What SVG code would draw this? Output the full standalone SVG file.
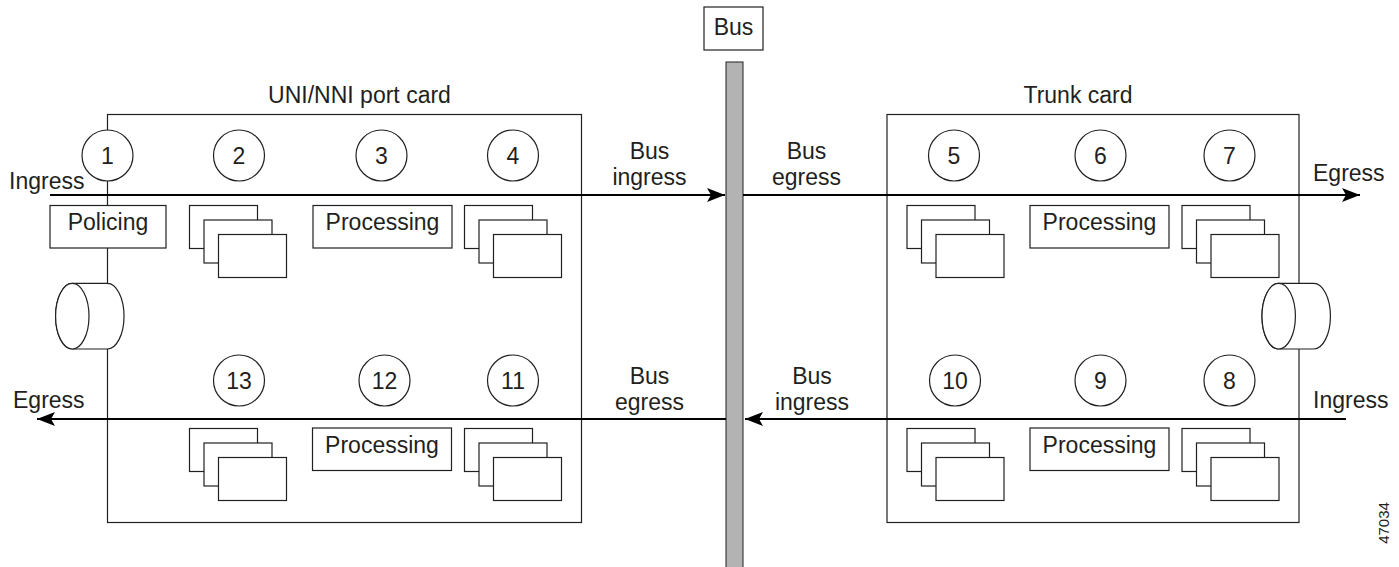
<svg xmlns="http://www.w3.org/2000/svg" width="1399" height="567" viewBox="0 0 1399 567">
<defs>
<style>
text{font-family:"Liberation Sans",Arial,Helvetica,sans-serif;font-size:23px;fill:#231f20}
.mid{text-anchor:middle}
.card{fill:none;stroke:#231f20;stroke-width:1.2}
.box{fill:#fff;stroke:#231f20;stroke-width:1.2}
.flow{stroke:#000;stroke-width:2.2;fill:none}
</style>
<marker id="ah" viewBox="0 0 18 14" refX="18" refY="7" markerWidth="18" markerHeight="14" markerUnits="userSpaceOnUse" orient="auto">
<path d="M0,0 L18,7 L0,14 L4,7 Z" fill="#000"/>
</marker>
<g id="stack">
<rect class="box" x="0" y="0" width="68" height="43"/>
<rect class="box" x="14.5" y="14.5" width="68" height="43"/>
<rect class="box" x="29" y="29" width="68" height="43"/>
</g>
</defs>
<rect width="1399" height="567" fill="#fff"/>

<g id="bus">
<rect x="726" y="62" width="17" height="510" fill="#b3b3b3" stroke="#231f20" stroke-width="1"/>
<rect class="box" x="704" y="7" width="59" height="43"/>
<text class="mid" x="733.5" y="35">Bus</text>
</g>

<g id="uni-card">
<rect class="card" x="107.5" y="114.5" width="474" height="408"/>
<text class="mid" x="359.5" y="103">UNI/NNI port card</text>
</g>

<g id="trunk-card">
<rect class="card" x="887" y="114.5" width="412" height="408"/>
<text class="mid" x="1078" y="103">Trunk card</text>
</g>

<g id="connectors">
<line class="flow" x1="50" y1="195" x2="725" y2="195" marker-end="url(#ah)"/>
<line class="flow" x1="743" y1="195" x2="1360" y2="195" marker-end="url(#ah)"/>
<line class="flow" x1="1346" y1="419" x2="745" y2="419" marker-end="url(#ah)"/>
<line class="flow" x1="726" y1="419" x2="37" y2="419" marker-end="url(#ah)"/>
</g>

<g id="labels">
<text x="9" y="189">Ingress</text>
<text x="13" y="408">Egress</text>
<text x="1313" y="181">Egress</text>
<text x="1313" y="408">Ingress</text>
<text class="mid" x="649.5" y="159">Bus</text>
<text class="mid" x="649.5" y="185">ingress</text>
<text class="mid" x="806.5" y="159">Bus</text>
<text class="mid" x="806.5" y="185">egress</text>
<text class="mid" x="649.5" y="384">Bus</text>
<text class="mid" x="649.5" y="410">egress</text>
<text class="mid" x="812" y="384">Bus</text>
<text class="mid" x="812" y="410">ingress</text>
<text x="1389" y="523" transform="rotate(-90 1389 523)" class="mid" style="font-size:15px">47034</text>
</g>

<g id="policing">
<rect class="box" x="50" y="205.5" width="116" height="42.5"/>
<text class="mid" x="108" y="230">Policing</text>
</g>

<g id="cyl-left">
<path class="box" d="M72.3,283.3 L107.3,283.3 A16.7,32.8 0 0 1 107.3,349 L72.3,349 A16.7,32.8 0 0 1 72.3,283.3 Z"/>
<ellipse class="box" cx="72.3" cy="316.2" rx="16.7" ry="32.8"/>
</g>
<g id="cyl-right">
<path class="box" d="M1278.7,283.3 L1313.7,283.3 A16.7,32.8 0 0 1 1313.7,349 L1278.7,349 A16.7,32.8 0 0 1 1278.7,283.3 Z"/>
<ellipse class="box" cx="1278.7" cy="316.2" rx="16.7" ry="32.8"/>
</g>

<g id="n1"><circle class="box" cx="107.5" cy="155.5" r="25.5"/><text class="mid" x="107.5" y="163.5">1</text></g>
<g id="n2"><circle class="box" cx="239" cy="155.5" r="25.5"/><text class="mid" x="239" y="163.5">2</text></g>
<g id="n3"><circle class="box" cx="381.5" cy="155.5" r="25.5"/><text class="mid" x="381.5" y="163.5">3</text></g>
<g id="n4"><circle class="box" cx="513" cy="155.5" r="25.5"/><text class="mid" x="513" y="163.5">4</text></g>
<g id="n5"><circle class="box" cx="954" cy="155.5" r="25.5"/><text class="mid" x="954" y="163.5">5</text></g>
<g id="n6"><circle class="box" cx="1100.5" cy="155.5" r="25.5"/><text class="mid" x="1100.5" y="163.5">6</text></g>
<g id="n7"><circle class="box" cx="1229.5" cy="155.5" r="25.5"/><text class="mid" x="1229.5" y="163.5">7</text></g>
<g id="n8"><circle class="box" cx="1229.5" cy="380.5" r="25.5"/><text class="mid" x="1229.5" y="388.5">8</text></g>
<g id="n9"><circle class="box" cx="1100.5" cy="380.5" r="25.5"/><text class="mid" x="1100.5" y="388.5">9</text></g>
<g id="n10"><circle class="box" cx="955" cy="380.5" r="25.5"/><text class="mid" x="955" y="388.5">10</text></g>
<g id="n11"><circle class="box" cx="513" cy="380.5" r="25.5"/><text class="mid" x="513" y="388.5">11</text></g>
<g id="n12"><circle class="box" cx="384.5" cy="380.5" r="25.5"/><text class="mid" x="384.5" y="388.5">12</text></g>
<g id="n13"><circle class="box" cx="239" cy="380.5" r="25.5"/><text class="mid" x="239" y="388.5">13</text></g>

<g id="proc-3"><rect class="box" x="313" y="205.5" width="139" height="42.5"/><text class="mid" x="382.5" y="230">Processing</text></g>
<g id="proc-6"><rect class="box" x="1030" y="205.5" width="139" height="42.5"/><text class="mid" x="1099.5" y="230">Processing</text></g>
<g id="proc-12"><rect class="box" x="312.5" y="428" width="139" height="42.5"/><text class="mid" x="382" y="452.5">Processing</text></g>
<g id="proc-9"><rect class="box" x="1030" y="428" width="139" height="42.5"/><text class="mid" x="1099.5" y="452.5">Processing</text></g>

<g id="queue-2"><use href="#stack" x="189.5" y="205.5"/></g>
<g id="queue-4"><use href="#stack" x="464.5" y="205.5"/></g>
<g id="queue-5"><use href="#stack" x="907" y="205.5"/></g>
<g id="queue-7"><use href="#stack" x="1182" y="205.5"/></g>
<g id="queue-13"><use href="#stack" x="189.5" y="428.5"/></g>
<g id="queue-11"><use href="#stack" x="464.5" y="428.5"/></g>
<g id="queue-10"><use href="#stack" x="907" y="428.5"/></g>
<g id="queue-8"><use href="#stack" x="1182" y="428.5"/></g>
</svg>
